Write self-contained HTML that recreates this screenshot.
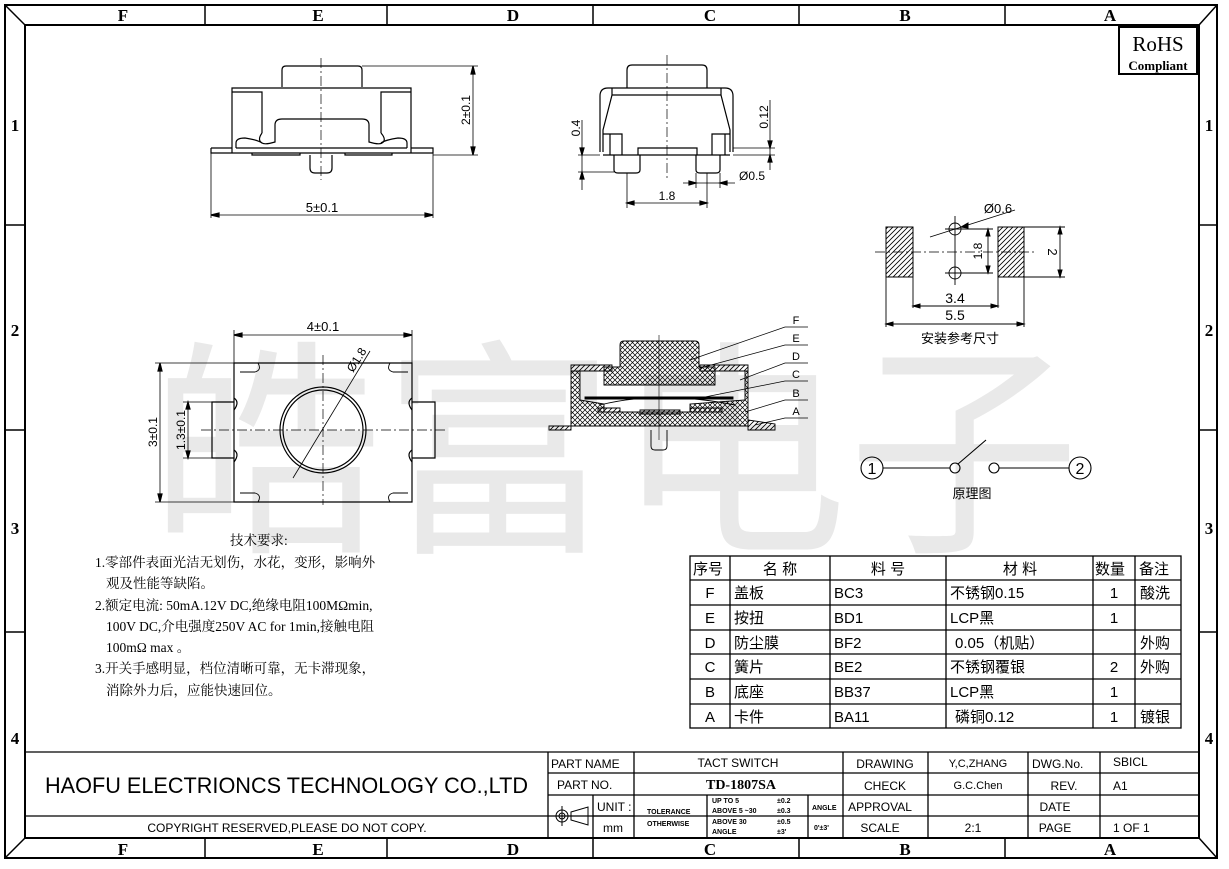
<!DOCTYPE html>
<html><head><meta charset="utf-8"><style>
html,body{margin:0;padding:0;background:#fff;}
svg{display:block;}
.t{font-family:"Liberation Sans","Noto Sans CJK SC",sans-serif;fill:#000;}
.s{font-family:"Liberation Serif","Noto Serif CJK SC",serif;fill:#000;}
</style></head><body>
<svg width="1229" height="869" viewBox="0 0 1229 869" xmlns="http://www.w3.org/2000/svg">
<defs>
<pattern id="xh" width="5" height="5" patternUnits="userSpaceOnUse"><path d="M0 0L5 5M5 0L0 5" stroke="#000" stroke-width="0.7"/></pattern>
<pattern id="dh" width="5" height="5" patternUnits="userSpaceOnUse"><path d="M0 5L5 0M-1 1L1 -1M4 6L6 4" stroke="#000" stroke-width="0.8"/></pattern>
</defs>
<!-- watermark -->
<text x="150" y="535" font-size="230" textLength="930" lengthAdjust="spacingAndGlyphs" style="font-family:'Noto Sans CJK SC',sans-serif" fill="#e9e9e9">皓富电子</text>

<!-- frame -->
<g fill="none" stroke="#000">
<rect x="5" y="5" width="1212" height="853" stroke-width="2"/>
<rect x="25" y="25" width="1174" height="813" stroke-width="2"/>
<path d="M5 5L25 25M1217 5L1199 25M5 858L25 838M1217 858L1199 838" stroke-width="1.5"/>
<path d="M205 5V25M387 5V25M593 5V25M799 5V25M1005 5V25M205 838V858M387 838V858M593 838V858M799 838V858M1005 838V858" stroke-width="1.5"/>
<path d="M5 225H25M5 430H25M5 632H25M1199 225H1217M1199 430H1217M1199 632H1217" stroke-width="1.5"/>
</g>
<g class="s" font-size="17" font-weight="bold" text-anchor="middle">
<text x="123" y="21">F</text><text x="318" y="21">E</text><text x="513" y="21">D</text><text x="710" y="21">C</text><text x="905" y="21">B</text><text x="1110" y="21">A</text>
<text x="123" y="855">F</text><text x="318" y="855">E</text><text x="513" y="855">D</text><text x="710" y="855">C</text><text x="905" y="855">B</text><text x="1110" y="855">A</text>
<text x="15" y="131">1</text><text x="15" y="336">2</text><text x="15" y="534">3</text><text x="15" y="744">4</text>
<text x="1209" y="131">1</text><text x="1209" y="336">2</text><text x="1209" y="534">3</text><text x="1209" y="744">4</text>
</g>
<!-- RoHS -->
<rect x="1119" y="27" width="78" height="47" fill="#fff" stroke="#000" stroke-width="2"/>
<text x="1158" y="51" class="s" font-size="21" text-anchor="middle">RoHS</text>
<text x="1158" y="70" class="s" font-size="13" font-weight="bold" text-anchor="middle">Compliant</text>

<!-- top-left side view -->
<g fill="none" stroke="#000" stroke-width="1.2">
<path d="M282 87V70Q282 66 286 66H358Q362 66 362 70V87"/>
<path d="M232 153V88H411V153"/>
<path d="M232 92H262V133M411 92H381V133"/>
<path d="M262 133Q257 140 262 143Q265 145 275 142V125Q275 119 282 119H362Q369 119 369 125V142Q379 145 382 143Q387 140 381 133"/>
<path d="M236 148V143Q236 138 245 138Q258 140 262 143M407 148V143Q407 138 398 138Q385 140 381 143"/>
<path d="M236 148H407"/>
<path d="M211 148V153H433V148H411M211 148H232"/>
<path d="M252 153V155H300V153M345 153V155H392V153"/>
<path d="M310 155V168Q310 173 315 173H327Q332 173 332 168V155"/>
<path d="M211 153V218M433 153V218M362 66H478M433 155H478" stroke-width="0.8"/>
<path d="M211 215H433M473 66V155" stroke-width="0.8"/>
<path d="M211 215l8 -2v4zM433 215l-8 -2v4zM473 66l-2 8h4zM473 155l-2 -8h4z" fill="#000"/>
<path d="M321 58V180" stroke-width="0.7" stroke-dasharray="10 3 2 3"/>
</g>
<text x="322" y="212" class="t" font-size="13" text-anchor="middle">5±0.1</text>
<text transform="translate(470 110) rotate(-90)" class="t" font-size="12" text-anchor="middle">2±0.1</text>

<!-- top middle view -->
<g fill="none" stroke="#000" stroke-width="1.2">
<path d="M627 88V70Q627 65 632 65H702Q707 65 707 70V88"/>
<path d="M600 152V96Q600 88 608 88H725Q733 88 733 96V152"/>
<path d="M612 88V95L603 130V152M721 88V95L730 130V152M612 95H721"/>
<path d="M603 134H622V155M712 155V134H730M610 134V155M725 134V155"/>
<path d="M603 155H730M638 155V148H697V155"/>
<path d="M614 155V170Q614 173 618 173H636Q640 173 640 170V155M696 155V170Q696 173 700 173H716Q720 173 720 170V155"/>
<path d="M578 155H600M578 172H614M733 148H775M733 155H775M627 173V208M707 173V208M696 173V188M720 173V188" stroke-width="0.8"/>
<path d="M582 120V190M770 100V170M627 203H707M683 183H735" stroke-width="0.8"/>
<path d="M582 155l-2 -7h4zM582 172l-2 7h4zM770 148l-2 -7h4zM770 155l-2 7h4zM627 203l7 -2v4zM707 203l-7 -2v4zM696 183l-7 -2v4zM720 183l7 -2v4z" fill="#000"/>
<path d="M667 55V178" stroke-width="0.7" stroke-dasharray="10 3 2 3"/>
</g>
<text transform="translate(580 128) rotate(-90)" class="t" font-size="12" text-anchor="middle">0.4</text>
<text transform="translate(768 117) rotate(-90)" class="t" font-size="12" text-anchor="middle">0.12</text>
<text x="752" y="180" class="t" font-size="12" text-anchor="middle">Ø0.5</text>
<text x="667" y="200" class="t" font-size="12" text-anchor="middle">1.8</text>

<!-- bottom view -->
<g fill="none" stroke="#000" stroke-width="1.2">
<path d="M234 363H412V502H234Z"/>
<circle cx="323" cy="430" r="43"/><circle cx="323" cy="430" r="40"/>
<path d="M234 402H212V458H234M412 402H435V458H412"/>
<path d="M234 398Q240 402 234 410M234 450Q240 454 234 462M412 398Q406 402 412 410M412 450Q406 454 412 462"/>
<path d="M258 363Q262 370 255 372H240M390 363Q386 370 393 372H408M258 502Q262 495 255 493H240M390 502Q386 495 393 493H408" stroke-width="0.9"/>
<path d="M201 430H445M323 355V505" stroke-width="0.7" stroke-dasharray="10 3 2 3"/>
<path d="M293 478L370 351" stroke-width="0.8"/>
<path d="M234 330V363M412 330V363M155 363H234M155 502H234M183 402H212M183 458H212" stroke-width="0.8"/>
<path d="M234 335H412M160 363V502M188 402V458" stroke-width="0.8"/>
<path d="M234 335l8 -2v4zM412 335l-8 -2v4zM160 363l-2 8h4zM160 502l-2 -8h4zM188 402l-2 7h4zM188 458l-2 -7h4z" fill="#000"/>
</g>
<text x="323" y="331" class="t" font-size="13" text-anchor="middle">4±0.1</text>
<text transform="translate(157 432) rotate(-90)" class="t" font-size="12" text-anchor="middle">3±0.1</text>
<text transform="translate(185 430) rotate(-90)" class="t" font-size="12" text-anchor="middle">1.3±0.1</text>
<text transform="translate(360 362) rotate(-58)" class="t" font-size="12" text-anchor="middle">Ø1.8</text>

<!-- cross section -->
<g stroke="#000" stroke-width="0.9">
<path d="M620 367V345Q620 341 624 341H695Q699 341 699 345V367H715V385H604V367H620Z" fill="url(#xh)"/>
<path d="M571 365H612V371H571ZM700 365H748V371H700Z" fill="url(#dh)"/>
<path d="M571 371H580V400L604 404V412H690V404L745 400V371H748V426H571Z" fill="url(#xh)"/>
<path d="M585 397H733V399H585Z" fill="#000"/>
<path d="M600 405Q660 390 735 405" fill="none"/>
<path d="M598 408H620V412H598ZM640 410H680V414H640ZM690 408H722V412H690Z" fill="url(#dh)"/>
<path d="M549 426H571V430H549ZM748 420L775 424V430H748Z" fill="url(#dh)"/>
<path d="M651 430V446Q651 450 655 450H663Q667 450 667 446V430" fill="none"/>
<path d="M659 335V440" stroke-width="0.6"/>
<g fill="none" stroke-width="0.7">
<path d="M690 360L785 327H808M700 368L785 345H808M740 380L785 363H808M700 398L785 381H808M745 412L785 400H808M755 425L785 418H808"/>
</g>
</g>
<g class="t" font-size="11" text-anchor="middle">
<text x="796" y="324">F</text><text x="796" y="342">E</text><text x="796" y="360">D</text><text x="796" y="378">C</text><text x="796" y="397">B</text><text x="796" y="415">A</text>
</g>

<!-- footprint -->
<g stroke="#000" stroke-width="1">
<rect x="886" y="227" width="27" height="50" fill="url(#dh)"/>
<rect x="998" y="227" width="26" height="50" fill="url(#dh)"/>
<g fill="none" stroke-width="0.9">
<circle cx="955" cy="229" r="6"/><circle cx="955" cy="273" r="6"/>
<path d="M945 229H965M945 273H965M955 216V285" />
<path d="M875 252H1035" stroke-width="0.7" stroke-dasharray="10 3 2 3"/>
<path d="M930 237L1015 210M960 229H993M960 273H993M988 229V273M1024 227H1065M1024 277H1065M1060 227V277"/>
<path d="M913 277V308M998 277V308M886 277V327M1024 277V327M913 306H998M886 324H1024"/>
</g>
<path d="M913 306l7 -2v4zM998 306l-7 -2v4zM886 324l7 -2v4zM1024 324l-7 -2v4zM988 229l-2 7h4zM988 273l-2 -7h4zM1060 227l-2 7h4zM1060 277l-2 -7h4zM961 227l7 -4v5z" fill="#000"/>
</g>
<text x="998" y="213" class="t" font-size="13" text-anchor="middle">Ø0.6</text>
<text transform="translate(982 251) rotate(-90)" class="t" font-size="12" text-anchor="middle">1.8</text>
<text transform="translate(1048 252) rotate(90)" class="t" font-size="13" text-anchor="middle">2</text>
<text x="955" y="303" class="t" font-size="14" text-anchor="middle">3.4</text>
<text x="955" y="320" class="t" font-size="14" text-anchor="middle">5.5</text>
<text x="960" y="343" class="t" font-size="13" text-anchor="middle">安装参考尺寸</text>

<!-- schematic -->
<g fill="none" stroke="#000" stroke-width="1.1">
<circle cx="872" cy="468" r="11"/><circle cx="1080" cy="468" r="11"/>
<circle cx="955" cy="468" r="5"/><circle cx="994" cy="468" r="5"/>
<path d="M883 468H950M999 468H1069M958 464L986 440"/>
</g>
<text x="872" y="474" class="t" font-size="16" text-anchor="middle">1</text>
<text x="1080" y="474" class="t" font-size="16" text-anchor="middle">2</text>
<text x="972" y="498" class="t" font-size="13" text-anchor="middle">原理图</text>

<!-- notes -->
<g class="s" font-size="13.5">
<text x="230" y="545">技术要求:</text>
<text x="95" y="567">1.零部件表面光洁无划伤，水花，变形，影响外</text>
<text x="106" y="588">观及性能等缺陷。</text>
<text x="95" y="610">2.额定电流: 50mA.12V DC,绝缘电阻100MΩmin,</text>
<text x="106" y="631">100V DC,介电强度250V AC for 1min,接触电阻</text>
<text x="106" y="652">100mΩ max 。</text>
<text x="95" y="673">3.开关手感明显，档位清晰可靠，无卡滞现象，</text>
<text x="106" y="695">消除外力后，应能快速回位。</text>
</g>

<!-- parts table -->
<g fill="none" stroke="#000" stroke-width="1.3">
<rect x="690" y="556" width="491" height="172"/>
<path d="M690 580H1181M690 605H1181M690 630H1181M690 654H1181M690 679H1181M690 704H1181"/>
<path d="M730 556V728M830 556V728M946 556V728M1093 556V728M1135 556V728"/>
</g>
<g class="t" font-size="15">
<text x="693" y="574">序号</text><text x="780" y="574" text-anchor="middle">名  称</text><text x="888" y="574" text-anchor="middle">料  号</text><text x="1020" y="574" text-anchor="middle">材  料</text><text x="1095" y="574">数量</text><text x="1139" y="574">备注</text>
<text x="710" y="598" text-anchor="middle">F</text><text x="734" y="598">盖板</text><text x="834" y="598">BC3</text><text x="950" y="598">不锈钢0.15</text><text x="1114" y="598" text-anchor="middle">1</text><text x="1140" y="598">酸洗</text>
<text x="710" y="623" text-anchor="middle">E</text><text x="734" y="623">按扭</text><text x="834" y="623">BD1</text><text x="950" y="623">LCP黑</text><text x="1114" y="623" text-anchor="middle">1</text>
<text x="710" y="648" text-anchor="middle">D</text><text x="734" y="648">防尘膜</text><text x="834" y="648">BF2</text><text x="955" y="648">0.05（机贴）</text><text x="1140" y="648">外购</text>
<text x="710" y="672" text-anchor="middle">C</text><text x="734" y="672">簧片</text><text x="834" y="672">BE2</text><text x="950" y="672">不锈钢覆银</text><text x="1114" y="672" text-anchor="middle">2</text><text x="1140" y="672">外购</text>
<text x="710" y="697" text-anchor="middle">B</text><text x="734" y="697">底座</text><text x="834" y="697">BB37</text><text x="950" y="697">LCP黑</text><text x="1114" y="697" text-anchor="middle">1</text>
<text x="710" y="722" text-anchor="middle">A</text><text x="734" y="722">卡件</text><text x="834" y="722">BA11</text><text x="955" y="722">磷铜0.12</text><text x="1114" y="722" text-anchor="middle">1</text><text x="1140" y="722">镀银</text>
</g>

<!-- title block -->
<g fill="none" stroke="#000" stroke-width="1.3">
<path d="M25 752H1199M25 816H548M548 752V838"/>
<path d="M548 773H1199M548 795H1199M548 816H1199"/>
<path d="M634 752V838M843 752V838M928 752V838M1028 752V838M1100 752V838"/>
<path d="M593 795V838M593 816H634M707 795V838M808 795V838"/>
</g>
<g fill="none" stroke="#000" stroke-width="1">
<circle cx="562" cy="816" r="6"/><circle cx="562" cy="816" r="3"/><path d="M552 816H572M562 806V826M571 812L588 807V825L571 820Z"/>
</g>
<text x="45" y="793" class="t" font-size="22" textLength="483" lengthAdjust="spacingAndGlyphs">HAOFU ELECTRIONCS TECHNOLOGY CO.,LTD</text>
<text x="287" y="832" class="t" font-size="12" text-anchor="middle">COPYRIGHT RESERVED,PLEASE DO NOT COPY.</text>
<g class="t" font-size="12">
<text x="551" y="768">PART NAME</text><text x="557" y="789">PART NO.</text>
<text x="597" y="811">UNIT :</text><text x="603" y="832">mm</text>
<text x="738" y="767" text-anchor="middle">TACT SWITCH</text>
<text x="885" y="768" text-anchor="middle">DRAWING</text><text x="885" y="790" text-anchor="middle">CHECK</text><text x="880" y="811" text-anchor="middle">APPROVAL</text><text x="880" y="832" text-anchor="middle">SCALE</text>
<text x="978" y="767" text-anchor="middle" font-size="11">Y,C,ZHANG</text><text x="978" y="789" text-anchor="middle" font-size="11">G.C.Chen</text><text x="973" y="832" text-anchor="middle">2:1</text>
<text x="1032" y="768">DWG.No.</text><text x="1064" y="790" text-anchor="middle">REV.</text><text x="1055" y="811" text-anchor="middle">DATE</text><text x="1055" y="832" text-anchor="middle">PAGE</text>
<text x="1113" y="766">SBICL</text><text x="1113" y="790">A1</text><text x="1113" y="832">1  OF  1</text>
</g>
<text x="741" y="789" class="s" font-size="14" font-weight="bold" text-anchor="middle" fill="#1a1a60">TD-1807SA</text>
<g class="t" font-size="7" font-weight="bold">
<text x="647" y="814">TOLERANCE</text><text x="647" y="826">OTHERWISE</text>
<text x="712" y="803">UP TO 5</text><text x="712" y="813">ABOVE 5 ~30</text><text x="712" y="824">ABOVE 30</text><text x="712" y="834">ANGLE</text>
<text x="777" y="803">±0.2</text><text x="777" y="813">±0.3</text><text x="777" y="824">±0.5</text><text x="777" y="834">±3'</text>
<text x="812" y="810">ANGLE</text><text x="814" y="830">0'±3'</text>
</g>
</svg>
</body></html>
